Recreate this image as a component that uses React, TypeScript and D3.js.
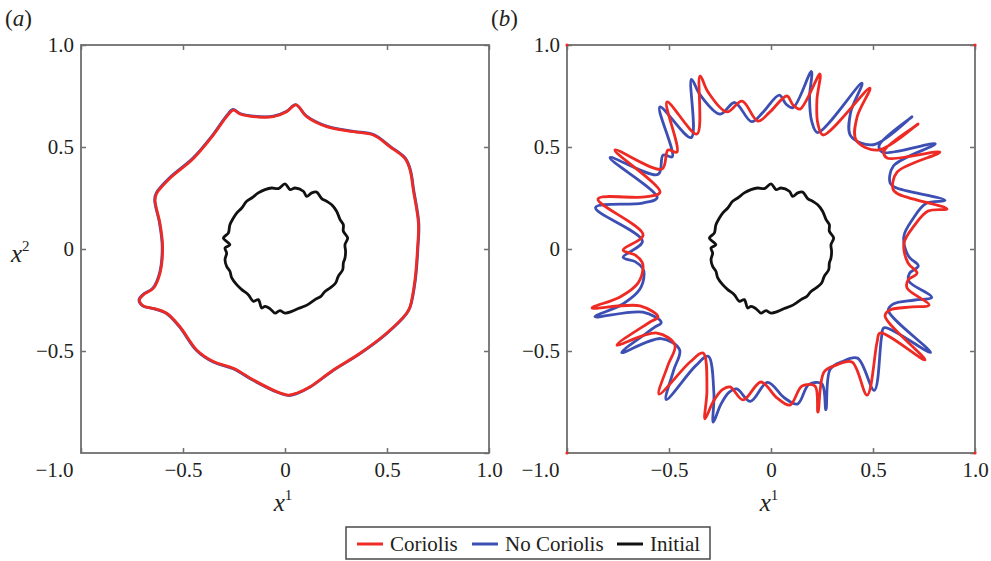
import { useEffect, useRef } from 'react'
import * as d3 from 'd3'

type Pt = [number, number]

// initial perturbed interface (same in both panels)
const initialShape: Pt[] = [
  [0.0, 0.319], [0.025, 0.291], [0.049, 0.299], [0.09, 0.283], [0.106, 0.258],
  [0.131, 0.275], [0.155, 0.279], [0.18, 0.247], [0.204, 0.234], [0.229, 0.217],
  [0.253, 0.185], [0.27, 0.144], [0.286, 0.119], [0.286, 0.087], [0.307, 0.054],
  [0.294, 0.021], [0.297, -0.011], [0.294, -0.044], [0.286, -0.069], [0.283, -0.101],
  [0.261, -0.134], [0.248, -0.167], [0.221, -0.191], [0.196, -0.208], [0.176, -0.232],
  [0.147, -0.248], [0.123, -0.265], [0.095, -0.281], [0.065, -0.292], [0.033, -0.306],
  [0.0, -0.314], [-0.025, -0.302], [-0.049, -0.314], [-0.074, -0.292], [-0.098, -0.281],
  [-0.114, -0.289], [-0.131, -0.248], [-0.155, -0.257], [-0.18, -0.224], [-0.212, -0.199],
  [-0.237, -0.175], [-0.261, -0.142], [-0.27, -0.109], [-0.286, -0.085], [-0.294, -0.052],
  [-0.286, -0.02], [-0.294, 0.005], [-0.27, 0.021], [-0.302, 0.054], [-0.278, 0.078],
  [-0.27, 0.119], [-0.253, 0.152], [-0.237, 0.176], [-0.212, 0.201], [-0.188, 0.234],
  [-0.163, 0.25], [-0.131, 0.275], [-0.098, 0.291], [-0.065, 0.299], [-0.033, 0.296],
]

// panel (a)
const coriolisA: Pt[] = [
  [0.054, 0.706], [0.106, 0.649], [0.204, 0.6], [0.335, 0.575], [0.433, 0.559],
  [0.515, 0.501], [0.588, 0.444], [0.613, 0.387], [0.629, 0.289], [0.654, 0.126],
  [0.65, 0.011], [0.637, -0.152], [0.613, -0.283], [0.596, -0.315], [0.498, -0.413],
  [0.368, -0.511], [0.237, -0.593], [0.123, -0.675], [0.057, -0.707], [0.016, -0.716],
  [-0.041, -0.699], [-0.155, -0.642], [-0.253, -0.585], [-0.351, -0.552], [-0.433, -0.495],
  [-0.515, -0.381], [-0.58, -0.315], [-0.646, -0.291], [-0.695, -0.279], [-0.714, -0.25],
  [-0.695, -0.225], [-0.646, -0.193], [-0.613, -0.119], [-0.6, 0.011], [-0.613, 0.126],
  [-0.637, 0.24], [-0.629, 0.273], [-0.564, 0.347], [-0.449, 0.444], [-0.351, 0.559],
  [-0.286, 0.649], [-0.253, 0.681], [-0.22, 0.662], [-0.155, 0.649], [-0.057, 0.649],
  [0.008, 0.673],
]
const noCoriolisA: Pt[] = [
  [0.052, 0.708], [0.106, 0.651], [0.204, 0.602], [0.336, 0.577], [0.434, 0.561],
  [0.517, 0.502], [0.59, 0.445], [0.615, 0.387], [0.631, 0.289], [0.656, 0.126],
  [0.652, 0.011], [0.639, -0.152], [0.614, -0.283], [0.596, -0.317], [0.498, -0.415],
  [0.368, -0.513], [0.237, -0.595], [0.123, -0.677], [0.057, -0.709], [0.016, -0.718],
  [-0.041, -0.701], [-0.156, -0.644], [-0.254, -0.587], [-0.352, -0.554], [-0.435, -0.496],
  [-0.517, -0.382], [-0.581, -0.316], [-0.647, -0.292], [-0.696, -0.28], [-0.716, -0.25],
  [-0.697, -0.224], [-0.648, -0.192], [-0.615, -0.118], [-0.602, 0.011], [-0.615, 0.126],
  [-0.639, 0.241], [-0.631, 0.275], [-0.566, 0.349], [-0.451, 0.446], [-0.353, 0.561],
  [-0.288, 0.651], [-0.255, 0.684], [-0.221, 0.664], [-0.155, 0.651], [-0.057, 0.651],
  [0.008, 0.675],
]

// panel (b)
const coriolisB: Pt[] = [
  [-0.064, 0.627], [-0.005, 0.672], [0.078, 0.75], [0.108, 0.706], [0.142, 0.686],
  [0.24, 0.858], [0.225, 0.73], [0.23, 0.613], [0.255, 0.559], [0.485, 0.789],
  [0.422, 0.647], [0.417, 0.534], [0.525, 0.485], [0.721, 0.613], [0.554, 0.48],
  [0.569, 0.446], [0.828, 0.475], [0.618, 0.377], [0.598, 0.294], [0.623, 0.27],
  [0.863, 0.196], [0.77, 0.186], [0.701, 0.113], [0.652, 0.029], [0.672, -0.069],
  [0.716, -0.118], [0.672, -0.152], [0.667, -0.191], [0.775, -0.275], [0.691, -0.284],
  [0.583, -0.299], [0.559, -0.328], [0.755, -0.544], [0.534, -0.412], [0.52, -0.456],
  [0.471, -0.716], [0.397, -0.554], [0.319, -0.569], [0.26, -0.603], [0.23, -0.799],
  [0.216, -0.672], [0.152, -0.672], [0.093, -0.765], [0.029, -0.73], [-0.049, -0.652],
  [-0.137, -0.74], [-0.201, -0.676], [-0.24, -0.691], [-0.284, -0.75], [-0.324, -0.833],
  [-0.314, -0.691], [-0.333, -0.51], [-0.397, -0.554], [-0.549, -0.711], [-0.505, -0.569],
  [-0.471, -0.471], [-0.559, -0.412], [-0.755, -0.471], [-0.593, -0.358], [-0.554, -0.333],
  [-0.642, -0.279], [-0.877, -0.289], [-0.74, -0.235], [-0.652, -0.167], [-0.627, -0.093],
  [-0.632, -0.064], [-0.667, -0.029], [-0.725, -0.005], [-0.627, 0.069], [-0.848, 0.245],
  [-0.618, 0.255], [-0.544, 0.279], [-0.765, 0.485], [-0.534, 0.392], [-0.505, 0.485],
  [-0.461, 0.475], [-0.51, 0.721], [-0.363, 0.564], [-0.348, 0.848], [-0.309, 0.77],
  [-0.216, 0.672], [-0.142, 0.725],
]
const noCoriolisB: Pt[] = [
  [-0.095, 0.624], [-0.038, 0.672], [0.041, 0.754], [0.073, 0.711], [0.108, 0.693],
  [0.198, 0.87], [0.189, 0.741], [0.2, 0.624], [0.228, 0.571], [0.446, 0.813],
  [0.39, 0.668], [0.391, 0.554], [0.501, 0.511], [0.691, 0.648], [0.53, 0.507],
  [0.547, 0.474], [0.805, 0.516], [0.6, 0.407], [0.584, 0.323], [0.61, 0.301],
  [0.853, 0.238], [0.761, 0.224], [0.695, 0.147], [0.651, 0.061], [0.675, -0.036],
  [0.722, -0.083], [0.679, -0.119], [0.676, -0.158], [0.788, -0.237], [0.705, -0.25],
  [0.598, -0.27], [0.575, -0.301], [0.782, -0.507], [0.554, -0.386], [0.542, -0.431],
  [0.506, -0.693], [0.424, -0.535], [0.347, -0.553], [0.29, -0.59], [0.269, -0.788],
  [0.249, -0.661], [0.185, -0.665], [0.13, -0.76], [0.065, -0.729], [-0.017, -0.654],
  [-0.101, -0.747], [-0.168, -0.686], [-0.206, -0.703], [-0.247, -0.764], [-0.283, -0.849],
  [-0.28, -0.706], [-0.308, -0.526], [-0.37, -0.573], [-0.514, -0.738], [-0.477, -0.594],
  [-0.448, -0.494], [-0.539, -0.439], [-0.732, -0.508], [-0.575, -0.387], [-0.538, -0.36],
  [-0.628, -0.31], [-0.863, -0.332], [-0.728, -0.271], [-0.644, -0.199], [-0.622, -0.124],
  [-0.629, -0.095], [-0.666, -0.062], [-0.725, -0.041], [-0.63, 0.038], [-0.86, 0.203],
  [-0.63, 0.225], [-0.558, 0.252], [-0.789, 0.448], [-0.553, 0.366], [-0.529, 0.46],
  [-0.484, 0.452], [-0.545, 0.696], [-0.391, 0.546], [-0.39, 0.831], [-0.347, 0.755],
  [-0.249, 0.661], [-0.178, 0.718],
]

const cornerMarks: Pt[] = [[-1, 1], [1, 1], [-1, -1], [1, -1]]

const xTicks = [-1, -0.5, 0, 0.5, 1]
const yLabelTicks = [-0.5, 0, 0.5, 1]

const RED = '#ee2a24'
const BLUE = '#3d4fb2'
const BLACK = '#111111'
const AXIS = '#6f6f6f'
const TEXT = '#231f20'
const FONT = 'Liberation Serif, Tinos, DejaVu Serif, serif'

const legendItems = [
  { label: 'Coriolis', color: RED },
  { label: 'No Coriolis', color: BLUE },
  { label: 'Initial', color: BLACK },
]

const panels = [
  { tag: 'a', left: 81, blue: noCoriolisA, red: coriolisA, corners: false },
  { tag: 'b', left: 567, blue: noCoriolisB, red: coriolisB, corners: true },
]

const fmt = (d: number) => (d === 0 ? '0' : d3.format('.1f')(d))

export default function App() {
  const svgRef = useRef<SVGSVGElement>(null)

  useEffect(() => {
    document.body.style.margin = '0'
    if (!svgRef.current) return
    const svg = d3.select(svgRef.current)
    svg.selectAll('*').remove()

    const size = 408
    const top = 45
    const x = d3.scaleLinear().domain([-1, 1]).range([0, size])
    const y = d3.scaleLinear().domain([-1, 1]).range([size, 0])

    const line = d3.line<Pt>().x((d) => x(d[0])).y((d) => y(d[1]))
      .curve(d3.curveCatmullRomClosed.alpha(0.5))

    panels.forEach((p) => {
      const g = svg.append('g').attr('transform', `translate(${p.left},${top})`)

      g.append('path').attr('d', line(p.blue))
        .attr('fill', 'none').attr('stroke', BLUE).attr('stroke-width', 2.8)
        .attr('stroke-linejoin', 'round')
      g.append('path').attr('d', line(p.red))
        .attr('fill', 'none').attr('stroke', RED).attr('stroke-width', 2.8)
        .attr('stroke-linejoin', 'round')
      g.append('path').attr('d', line(initialShape))
        .attr('fill', 'none').attr('stroke', BLACK).attr('stroke-width', 2.8)
        .attr('stroke-linejoin', 'round')

      // frame
      g.append('rect').attr('x', 0).attr('y', 0).attr('width', size).attr('height', size)
        .attr('fill', 'none').attr('stroke', AXIS).attr('stroke-width', 1.8)

      // inward ticks on all four sides
      const bottom = g.append('g').attr('transform', `translate(0,${size})`)
        .call(d3.axisBottom(x).tickValues(xTicks).tickSize(-5).tickSizeOuter(0).tickPadding(9).tickFormat(fmt as any))
      const left = g.append('g')
        .call(d3.axisLeft(y).tickValues(yLabelTicks).tickSize(-5).tickSizeOuter(0).tickPadding(7).tickFormat(fmt as any))
      g.append('g').call(d3.axisTop(x).tickValues(xTicks).tickSize(-5).tickSizeOuter(0).tickFormat(() => ''))
      g.append('g').attr('transform', `translate(${size},0)`)
        .call(d3.axisRight(y).tickValues(xTicks).tickSize(-5).tickSizeOuter(0).tickFormat(() => ''))

      g.selectAll('.domain').remove()
      g.selectAll('.tick line').attr('stroke', AXIS).attr('stroke-width', 1.5)
      ;[bottom, left].forEach((a) => {
        a.attr('font-family', FONT).attr('font-size', 21)
        a.selectAll('text').attr('font-family', FONT).attr('font-size', 21).attr('fill', TEXT)
      })
      bottom.selectAll<SVGTextElement, number>('text').attr('dx', (d) => (d === -1 ? -27 : 0))

      if (p.corners) {
        g.selectAll('circle.corner').data(cornerMarks).join('circle')
          .attr('class', 'corner')
          .attr('cx', (d) => x(d[0])).attr('cy', (d) => y(d[1]))
          .attr('r', 1.6).attr('fill', RED)
      }

      // x axis title
      const xt = svg.append('text').attr('x', p.left + size / 2 - 2).attr('y', 511)
        .attr('text-anchor', 'middle').attr('font-family', FONT).attr('fill', TEXT)
      xt.append('tspan').attr('font-style', 'italic').attr('font-size', 25).text('x')
      xt.append('tspan').attr('font-size', 15).attr('dy', -11).text('1')

      // panel tag
      const pt = svg.append('text').attr('x', p.left - 76).attr('y', 26)
        .attr('font-family', FONT).attr('font-size', 23).attr('fill', TEXT)
      pt.append('tspan').text('(')
      pt.append('tspan').attr('font-style', 'italic').text(p.tag)
      pt.append('tspan').text(')')
    })

    // y axis title
    const yt = svg.append('text').attr('x', 11).attr('y', 262)
      .attr('font-family', FONT).attr('fill', TEXT)
    yt.append('tspan').attr('font-style', 'italic').attr('font-size', 25).text('x')
    yt.append('tspan').attr('font-size', 15).attr('dy', -11).text('2')

    // legend
    const lg = svg.append('g').attr('transform', 'translate(346,527)')
    lg.append('rect').attr('width', 364).attr('height', 32)
      .attr('fill', '#fff').attr('stroke', '#4a4a4a').attr('stroke-width', 1.5)
    const offsets = [11, 126, 271]
    legendItems.forEach((item, i) => {
      const ox = offsets[i]
      lg.append('line').attr('x1', ox).attr('x2', ox + 26).attr('y1', 17).attr('y2', 17)
        .attr('stroke', item.color).attr('stroke-width', 3)
      lg.append('text').attr('x', ox + 33).attr('y', 24)
        .attr('font-family', FONT).attr('font-size', 21).attr('fill', TEXT)
        .text(item.label)
    })
  }, [])

  return <svg ref={svgRef} width={991} height={561} style={{ display: 'block', fontFamily: FONT }} />
}
